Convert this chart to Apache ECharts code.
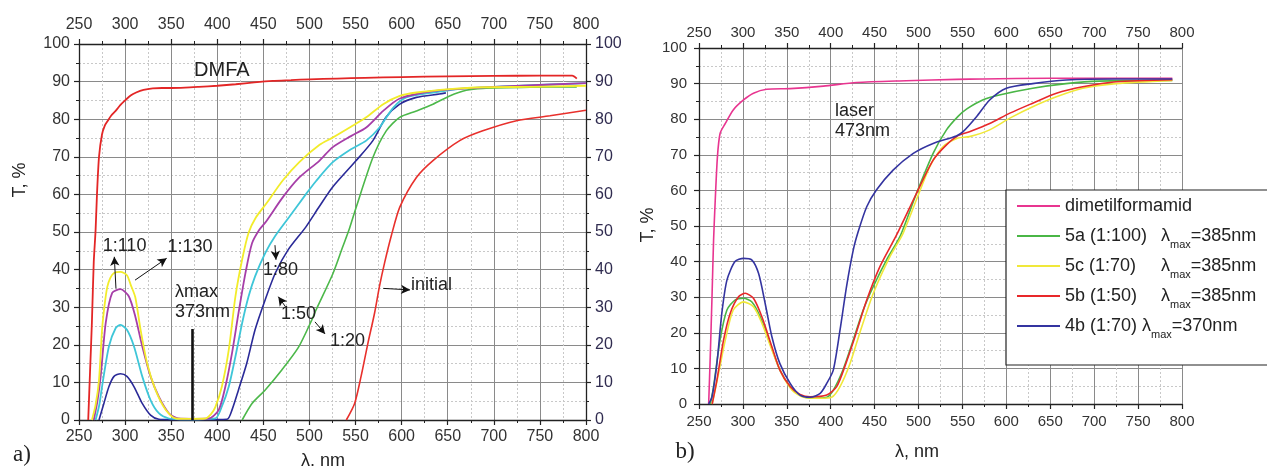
<!DOCTYPE html>
<html><head><meta charset="utf-8">
<script src="https://cdn.jsdelivr.net/npm/echarts@6/dist/echarts.min.js"></script>
<style>html,body{margin:0;padding:0;background:#fff}#c{width:1267px;height:466px}</style>
</head><body><div id="c"></div>
<script>
// ---------- axis ticks ----------
const wlTicks = [250, 800, 50];   // min, max, interval
const tTicks = [0, 100, 10];

// ---------- panel a) data ----------
const aDMFA_wl = [260,262,264,266,268,269.5,271.7,275,278,281,285,290,295,300,306,312,320,330,340,350,365,380,400,420,440,460,480,500,530,560,600,650,700,750,785,790];
const aDMFA_T  = [0,13,26,42,50.5,60,70,76,78.3,79.5,81,82.3,83.8,85,86.3,87.1,87.8,88.2,88.3,88.3,88.4,88.6,88.9,89.3,89.8,90.2,90.4,90.6,90.8,91,91.2,91.4,91.5,91.6,91.6,90.8];

const a130_wl = [264,268,271.7,275,278,280.7,284,288,295,302,306,311,316.8,324,333,344,355,370,387,393,398,405,412.5,419.7,427,434,442,453,471,489,511,525,545,561.6,580,598,616,652,688,742,800];
const a130_T  = [0,4,10.6,24,31,35.4,37.8,39.1,39.4,38.5,36,32.7,24,15,8,2.7,0.4,0.3,0.4,1.5,3.5,8.9,18.7,32.9,42.7,49.8,53.9,57.5,63.7,68.6,73.2,75.1,78,80.5,84,86.2,87.1,88,88.5,88.6,88.9];

const a110_wl = [266,270,273.5,279,286,295,304,311,318.6,327.6,336.6,347.5,358,375,391,401.6,408.8,416,423,430.5,437.7,445.6,453,471,489,511,525,545,561.6,580,598,634,670,730,800];
const a110_T  = [0,5,11.6,25.8,33.8,34.8,32.9,27.6,19.6,11.6,6.2,1.8,0.4,0.3,0.4,2.7,8.9,17.8,28.4,39,47,50.6,52.8,59.2,64.5,69,72.5,75.5,77.8,82.2,85.5,87.5,88.2,88.9,89.6];

const a80_wl = [268,272,275,282.5,289.7,295,302,309.6,318.6,327.6,336.6,347.5,360,380,398,405,412.5,419.7,427,434,441,452,463,478,496,507,525,545,561.6,576,591,605,634,670,730,800];
const a80_T  = [0,4,8.9,19.6,24.4,25.3,24,19.6,11.6,5.3,1.8,0.4,0.2,0.2,0.4,3.6,8.9,16.9,25.8,32.9,38.2,44.4,49,54,60,63.5,68.5,72,74.3,77.8,83.1,85.8,87.1,88.2,88.9,89.6];

const a50_wl = [271.7,277,282.5,288,295,302,309.6,318.6,327.6,336.6,350,380,410.6,416,423,432,441,452,463,477,496,510,525,550.7,568.8,583,598,616,641,648];
const a50_T  = [0,4.4,8.9,11.6,12.3,11.6,8.9,4.4,1.3,0.2,0.1,0.1,0.2,2.7,8,15.1,24,32,39.1,45.3,51.3,56.5,61.9,69,74.3,80.5,84,85.8,86.7,87];

const a20_wl = [427,437.7,452,470,488,502.7,507,525.4,536,543.5,550.7,568.8,583.3,597.8,616,634,652,670,688,740,790];
const a20_T  = [0,4.4,8,13.3,19.3,26.7,29.2,38.9,46,51,56.6,69.8,76.9,80.5,82.2,84,86.2,87.7,88.2,88.5,88.6];

const aInit_wl = [540,549,556,563.4,570.6,576,581.5,588.8,598,616,634,663,688,724.6,760.9,800];
const aInit_T  = [0,4.4,11.6,20.4,28.4,35.6,41.8,49,56.6,64.5,69,74.3,76.9,79.6,80.9,82.4];

// ---------- panel b) data ----------
const bDMF_wl = [261,262.8,264.8,266.6,268.5,271,274,280,289,300.7,312,327,353.8,391.6,429.5,486,543,573,649,725,789];
const bDMF_T  = [0,13.3,30,46,57.3,69.5,76,78.8,82.6,85.4,87.3,88.4,88.6,89.3,90.3,90.8,91.2,91.3,91.5,91.5,91.5];

const b5a_wl = [263,266.6,274,281.8,291,300.7,310,319.7,331,342,353.8,365,376.5,395.5,403,414,425.7,437,448.5,463.6,478.8,497.7,516.6,531.8,545,555,573,592,630,668,706,789];
const b5a_T  = [0,4.9,18,26.4,29.2,29.7,28.7,24.5,17,9.6,4.9,2.5,1.6,1.9,3.9,9.6,18,26.4,33,40.5,47,59.2,70.4,77,80.8,82.9,85.4,86.8,88.7,90,90.7,90.9];

const b5c_wl = [265,272.3,280,289,300.7,312,321.6,333,344,356,369,388,401,410.6,422,433,448.5,467.4,482.5,512.8,528,545,558,581,604,630,657,687,725,789];
const b5c_T  = [0,8.6,18,26.4,28.7,27.3,22.7,15.2,8.6,3.9,1.9,1.6,1.9,4.9,11.4,19.9,31.1,41.4,48,66.7,72.3,74.7,75.1,77,80.3,83.5,86.3,88.7,90,90.9];

const b5b_wl = [265,270.4,278,285.6,295,302.6,312,321.6,333,342,353.8,365,376.5,395.5,406.8,416,427.6,441,456,475,497.7,516.6,531.8,545,558,581,604,630,657,687,725,789];
const b5b_T  = [0,6.7,18,25.5,30.1,31.1,29.7,24.5,16.1,9.6,4.9,2.7,2,2.5,4.9,10.5,18.9,29.2,38.6,47.5,59.2,68.5,72.8,75.4,76.5,78.8,81.7,84.5,87.3,89.1,90.5,91.1];

const b4b_wl = [261,264.8,270.4,276,281.8,291,300.7,310,317.8,325.3,333,342,353.8,365,376.5,388,395.5,403,410.6,418,425.7,431.4,441,452,471,494,516.6,543,550.7,566,581,600,630,668,725,789];
const b4b_T  = [0,2,11.4,25.5,34.8,40,40.9,40.5,36.7,28.3,18.9,11.4,5.8,2.5,1.9,3,5.8,9.6,20.8,33,43.3,48.5,55.4,60.1,65.7,70.4,73.2,75.3,76.5,80.7,85.4,88.7,90,91,91.3,91.3];

// ---------- legend texts (panel b) ----------
const bNames = ['dimetilformamid','5a','5c','5b','4b'];
const bLegendText = {
  'dimetilformamid': '{t|dimetilformamid}{s| }',
  '5a': '{p|5a (1:100)}{t|\u03bb}{s|max}{t|=385nm}',
  '5c': '{p|5c (1:70)}{t|\u03bb}{s|max}{t|=385nm}',
  '5b': '{p|5b (1:50)}{t|\u03bb}{s|max}{t|=385nm}',
  '4b': '{t|4b (1:70) \u03bb}{s|max}{t|=370nm}'
};

// ---------- annotations (data coordinates) ----------
const aLabels = [ // [wl, T, text, align, size]
  [405, 93.0, 'DMFA', 'center', 20],
  [299.4, 46.4, '1:110', 'center', 18],
  [370.4, 46.1, '1:130', 'center', 18],
  [354.1, 31.5, '\u03bbmax\n373nm', 'left', 18],
  [468.6, 39.8, '1:80', 'center', 18],
  [488.1, 28.3, '1:50', 'center', 18],
  [541.3, 20.9, '1:20', 'center', 18],
  [632.4, 35.9, 'initial', 'center', 18]
];
const aArrows = [ // [wl1, T1, wl2, T2] arrow head at second point
  [290.1, 35.0, 288.3, 43.4],
  [310.8, 37.2, 345.1, 43.0],
  [462.6, 46.5, 463.7, 42.6],
  [473.5, 30.3, 466.2, 32.8],
  [506.0, 26.1, 516.9, 22.9],
  [580.1, 35.0, 609.1, 34.6]
];
const aLambdaMax = [373, 0, 373, 24.2];
const bLabels = [[404.9, 79.5, 'laser\n473nm', 'left', 18]];

// ---------- build ----------
const FONT = '"Liberation Sans", Arial, sans-serif';
const zip = (a, b) => a.map((v, i) => [v, b[i]]);
const chart = echarts.init(document.getElementById('c'));

function xAx(grid, pos, fs, split, margin) {
  return {
    type: 'value', gridIndex: grid, position: pos,
    min: wlTicks[0], max: wlTicks[1], interval: wlTicks[2],
    axisLine: {show: true, onZero: false, lineStyle: {color: '#222', width: 1.3}},
    axisTick: {show: true, length: 5, lineStyle: {color: '#222', width: 1.2}},
    minorTick: {show: true, splitNumber: 2, length: 3, lineStyle: {color: '#222'}},
    axisLabel: {color: '#333', fontSize: fs, fontFamily: FONT, margin: margin},
    splitLine: {show: split, lineStyle: {color: '#8a8a8a', width: 1}},
    minorSplitLine: {show: split, lineStyle: {color: '#c8c8c8', width: 1, type: [2, 2]}}
  };
}
function yAx(grid, pos, fs, split, margin, color, showLine) {
  return {
    type: 'value', gridIndex: grid, position: pos,
    min: tTicks[0], max: tTicks[1], interval: tTicks[2],
    axisLine: {show: showLine, onZero: false, lineStyle: {color: '#222', width: 1.3}},
    axisTick: {show: showLine, length: 5, lineStyle: {color: '#222', width: 1.2}},
    minorTick: {show: showLine, splitNumber: 2, length: 3, lineStyle: {color: '#222'}},
    axisLabel: {show: true, color: color, fontSize: fs, fontFamily: FONT, margin: margin},
    splitLine: {show: split, lineStyle: {color: '#8a8a8a', width: 1}},
    minorSplitLine: {show: split, lineStyle: {color: '#c8c8c8', width: 1, type: [2, 2]}}
  };
}
function line(name, grid, wl, T, color, width, extra) {
  return Object.assign({
    type: 'line', name: name, xAxisIndex: grid === 0 ? 0 : 2, yAxisIndex: grid === 0 ? 0 : 2,
    data: zip(wl, T), showSymbol: false, symbol: 'none', smooth: 0.25,
    lineStyle: {color: color, width: width}, itemStyle: {color: color},
    silent: true, animation: false, z: 3
  }, extra || {});
}

const arrowMark = {
  silent: true, animation: false, symbol: ['none', 'arrow'], symbolSize: [7, 9],
  lineStyle: {color: '#111', width: 1, type: 'solid'}, label: {show: false},
  data: aArrows.map(a => [{coord: [a[0], a[1]]}, {coord: [a[2], a[3]]}])
};
const lmaxMark = {
  silent: true, animation: false, symbol: ['none', 'none'],
  lineStyle: {color: '#111', width: 2.6, type: 'solid'}, label: {show: false},
  data: [[{coord: [aLambdaMax[0], aLambdaMax[1]]}, {coord: [aLambdaMax[2], aLambdaMax[3]]}]]
};

const legendRich = {
  t: {fontSize: 18, fontFamily: FONT, color: '#222', lineHeight: 28},
  p: {fontSize: 18, fontFamily: FONT, color: '#222', lineHeight: 28, width: 96},
  s: {fontSize: 11, fontFamily: FONT, color: '#222', lineHeight: 12, verticalAlign: 'bottom', padding: [16, 0, 0, 0]}
};

const option = {
  animation: false,
  backgroundColor: '#fff',
  grid: [
    {left: 79, top: 44, width: 507, height: 376},
    {left: 699, top: 48, width: 483, height: 356}
  ],
  xAxis: [
    xAx(0, 'bottom', 16, true, 9),
    xAx(0, 'top', 16, false, 11),
    xAx(1, 'bottom', 15, true, 10),
    xAx(1, 'top', 15, false, 8)
  ],
  yAxis: [
    yAx(0, 'left', 16, true, 9, '#333', true),
    yAx(0, 'right', 16, false, 9, '#302c50', true),
    yAx(1, 'left', 15, true, 12, '#333', true)
  ],
  legend: {
    data: bNames, orient: 'vertical', left: 1006, top: 190,
    itemWidth: 43, itemHeight: 2, itemGap: 3, icon: 'rect',
    padding: [3, 45, 25, 11],
    borderColor: '#222', borderWidth: 1.2, backgroundColor: '#fff',
    formatter: n => bLegendText[n],
    textStyle: {rich: legendRich, fontSize: 18, fontFamily: FONT},
    selectedMode: false, z: 10
  },
  series: [
    line('aDMFA', 0, aDMFA_wl, aDMFA_T, '#e32626', 1.8, {markLine: arrowMark}),
    line('a20', 0, a20_wl, a20_T, '#4cb84a', 1.6),
    line('aInit', 0, aInit_wl, aInit_T, '#e8302c', 1.6),
    line('a50', 0, a50_wl, a50_T, '#2a2a98', 1.6),
    line('a80', 0, a80_wl, a80_T, '#3ec6d8', 1.8),
    line('a110', 0, a110_wl, a110_T, '#a63ea8', 1.8),
    line('a130', 0, a130_wl, a130_T, '#f2ec2a', 1.8, {markLine: lmaxMark}),
    line('dimetilformamid', 1, bDMF_wl, bDMF_T, '#e83590', 1.6),
    line('5a', 1, b5a_wl, b5a_T, '#4ab646', 1.6),
    line('5c', 1, b5c_wl, b5c_T, '#f0e83a', 1.6),
    line('5b', 1, b5b_wl, b5b_T, '#e8282a', 1.6),
    line('4b', 1, b4b_wl, b4b_T, '#3434a0', 1.6)
  ]
};
chart.setOption(option);

// text annotations placed from data coordinates
function txt(gridIdx, L) {
  const p = chart.convertToPixel({xAxisIndex: gridIdx === 0 ? 0 : 2, yAxisIndex: gridIdx === 0 ? 0 : 2}, [L[0], L[1]]);
  return {type: 'text', x: p[0], y: p[1], z: 20, silent: true,
    style: {text: L[2], font: L[4] + 'px ' + FONT, fill: '#222', align: L[3], verticalAlign: 'middle', lineHeight: 20}};
}
const graphics = [];
aLabels.forEach(L => graphics.push(txt(0, L)));
bLabels.forEach(L => graphics.push(txt(1, L)));
const stat = (text, x, y, font, rot) => ({type: 'text', x: x, y: y, rotation: rot || 0, silent: true, z: 20,
  style: {text: text, font: font, fill: '#222', align: 'center', verticalAlign: 'middle'}});
graphics.push(stat('T, %', 20, 180, '18px ' + FONT, Math.PI / 2));
graphics.push(stat('\u03bb, nm', 323, 461, '18px ' + FONT));
graphics.push(stat('T, %', 648, 225, '18px ' + FONT, Math.PI / 2));
graphics.push(stat('\u03bb, nm', 917, 452, '18px ' + FONT));
graphics.push(stat('a)', 22, 455, '23px "Liberation Serif", serif'));
graphics.push(stat('b)', 685, 452, '23px "Liberation Serif", serif'));
chart.setOption({graphic: graphics});
</script></body></html>
